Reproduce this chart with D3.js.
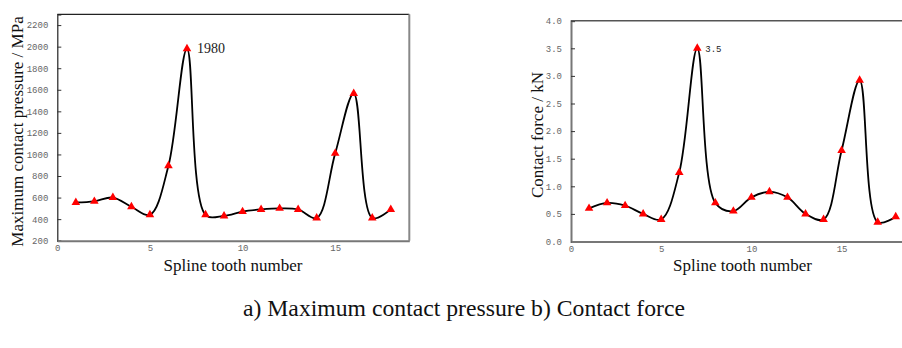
<!DOCTYPE html>
<html>
<head>
<meta charset="utf-8">
<script src="https://cdn.jsdelivr.net/npm/d3@7"></script>
<style>
  body { margin: 0; background: #fff; }
  svg { display: block; }
  .tick text { font-family: "Liberation Mono", monospace; font-size: 9px; fill: #666; }
  .title { font-family: "Liberation Serif", serif; font-size: 17px; fill: #111; }
</style>
</head>
<body>
<div id="chart"></div>
<script>
// tooth numbers 1..18
const teeth = d3.range(1, 19);

// a) maximum contact pressure, MPa
const pressure = [555, 565, 600, 515, 440, 895, 1980, 440, 430, 470, 490, 500, 490, 410, 1010, 1565, 410, 490];

// b) contact force, kN
const force = [0.6, 0.7, 0.65, 0.5, 0.4, 1.25, 3.5, 0.7, 0.55, 0.8, 0.9, 0.8, 0.5, 0.4, 1.65, 2.92, 0.35, 0.45];

const pressureTicks = d3.range(200, 2201, 200);
const forceTicks = d3.range(0, 4.01, 0.5);
const toothTicks = [0, 5, 10, 15];

const width = 902, height = 348;

const svg = d3.select('#chart')
  .append('svg')
  .attr('width', width)
  .attr('height', height);

/**
 * Draws one panel: axes, spline, markers and peak label
 */
function drawPanel(cfg) {
  const x = d3.scaleLinear().domain([0, 19]).range([cfg.left, cfg.right]);
  const y = d3.scaleLinear().domain(cfg.yDomain).range([cfg.bottom, cfg.top]);
  const g = svg.append('g');

  // frame
  g.append('line')
    .attr('x1', cfg.left).attr('x2', x(19))
    .attr('y1', cfg.top).attr('y2', cfg.top)
    .attr('stroke', cfg.topColor).attr('stroke-width', cfg.topWidth);
  if (cfg.showRight) {
    g.append('line')
      .attr('x1', cfg.right).attr('x2', cfg.right)
      .attr('y1', cfg.top).attr('y2', cfg.bottom)
      .attr('stroke', '#888').attr('stroke-width', 2);
  }

  // y axis, ticks inward
  const yAxis = g.append('g')
    .attr('transform', `translate(${cfg.left},0)`)
    .call(d3.axisLeft(y).tickValues(cfg.yTicks).tickSize(-4).tickPadding(9).tickFormat(cfg.yFormat));
  yAxis.select('.domain').attr('stroke', cfg.leftColor).attr('stroke-width', cfg.leftWidth);
  yAxis.selectAll('.tick line').attr('stroke', '#333');

  // x axis
  const xAxis = g.append('g')
    .attr('transform', `translate(0,${cfg.bottom})`)
    .call(d3.axisBottom(x).tickValues(toothTicks).tickSize(0).tickPadding(4).tickFormat(d3.format('d')));
  xAxis.select('.domain').attr('stroke', '#777').attr('stroke-width', 2);

  // spline through the points
  const line = d3.line()
    .x((d, i) => x(teeth[i]))
    .y(d => y(d))
    .curve(d3.curveCatmullRom.alpha(0.5));

  g.append('path')
    .datum(cfg.values)
    .attr('d', line)
    .attr('fill', 'none')
    .attr('stroke', '#000')
    .attr('stroke-width', 1.8);

  g.selectAll('.marker')
    .data(cfg.values)
    .enter()
    .append('path')
    .attr('class', 'marker')
    .attr('d', d3.symbol(d3.symbolTriangle, 32))
    .attr('transform', (d, i) => `translate(${x(teeth[i])},${y(d)})`)
    .attr('fill', '#f00');

  // peak value label
  const peak = d3.maxIndex(cfg.values);
  g.append('text')
    .attr('x', x(teeth[peak]) + cfg.labelDx)
    .attr('y', y(cfg.values[peak]) + 4)
    .attr('font-family', cfg.labelFont)
    .attr('font-size', cfg.labelSize)
    .attr('fill', '#222')
    .text(cfg.label);

  // axis titles
  g.append('text')
    .attr('class', 'title')
    .attr('text-anchor', 'middle')
    .attr('transform', `translate(${cfg.yTitleX},${(cfg.top + cfg.bottom) / 2 + 4}) rotate(-90)`)
    .attr('dy', '0.35em')
    .text(cfg.yTitle);

  g.append('text')
    .attr('class', 'title')
    .attr('text-anchor', 'middle')
    .attr('x', cfg.xTitleX)
    .attr('y', 271)
    .text('Spline tooth number');
}

drawPanel({
  values: pressure,
  yDomain: [200, 2300],
  yTicks: pressureTicks,
  yFormat: d3.format('d'),
  left: 57.3, right: 409.3, top: 14.3, bottom: 240.7,
  leftColor: '#222', leftWidth: 1.2,
  topColor: '#222', topWidth: 1.2,
  showRight: true,
  label: '1980', labelDx: 10, labelFont: 'Liberation Serif', labelSize: 14,
  yTitle: 'Maximum contact pressure / MPa', yTitleX: 17,
  xTitleX: 233
});

drawPanel({
  values: force,
  yDomain: [0, 4],
  yTicks: forceTicks,
  yFormat: d3.format('.1f'),
  left: 571, right: 571 + 19 * 18.04, top: 20.7, bottom: 241.5,
  leftColor: '#777', leftWidth: 2,
  topColor: '#555', topWidth: 1.5,
  showRight: false,
  label: '3.5', labelDx: 8, labelFont: 'Liberation Mono', labelSize: 9,
  yTitle: 'Contact force / kN', yTitleX: 537.5,
  xTitleX: 742.5
});

// caption
svg.append('text')
  .attr('x', 464)
  .attr('y', 316)
  .attr('text-anchor', 'middle')
  .attr('font-family', 'Liberation Serif')
  .attr('font-size', 23.7)
  .attr('fill', '#111')
  .text('a) Maximum contact pressure b) Contact force');
</script>
</body>
</html>
